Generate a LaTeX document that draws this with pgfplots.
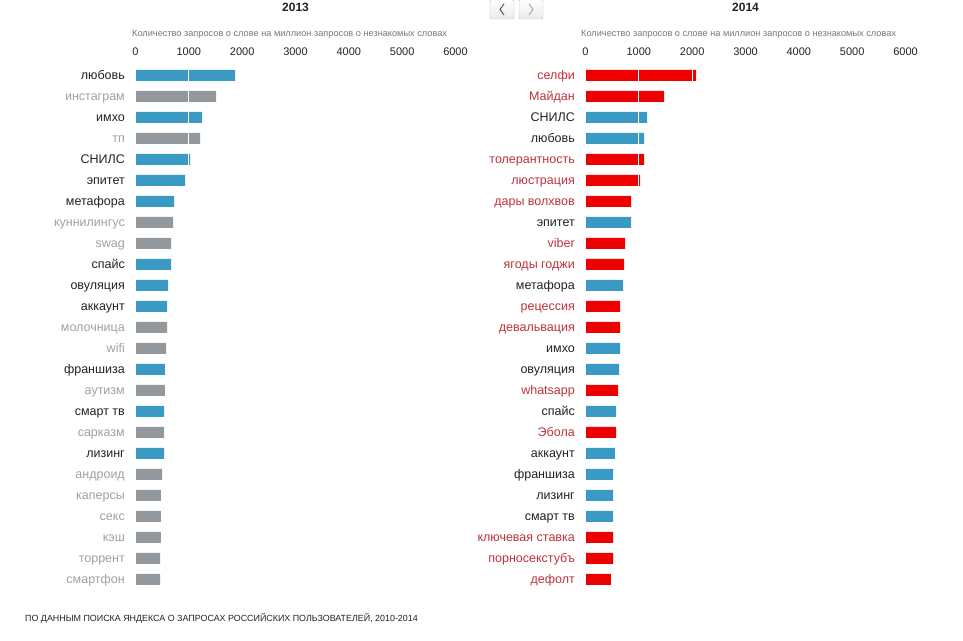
\documentclass[border=0pt]{standalone}
\usepackage{pgfplots}
\pgfplotsset{compat=1.18}
\usepackage{fontspec}
\setmainfont{Liberation Sans}

\definecolor{barblue}{RGB}{58,154,196}
\definecolor{bargray}{RGB}{146,152,156}
\definecolor{barred}{RGB}{238,0,0}
\definecolor{lblblack}{RGB}{34,34,34}
\definecolor{lblgray}{RGB}{160,160,160}
\definecolor{lblred}{RGB}{190,50,60}
\definecolor{subgray}{RGB}{119,119,119}

\pgfplotsset{
  wordchart/.style={
    scale only axis,
    width=320bp, height=525bp,
    anchor=north west,
    xmin=0, xmax=6000,
    ymin=0.5, ymax=25.5,
    y dir=reverse,
    axis line style={draw=none},
    major tick length=0pt,
    xtick={0,1000,2000,3000,4000,5000,6000},
    xticklabels={0,1000,2000,3000,4000,5000,6000},
    xticklabel pos=upper,
    xticklabel style={font=\fontsize{11bp}{13bp}\selectfont, text=lblblack, anchor=base, inner sep=0pt, yshift=9.8bp},
    ytick={1,...,25},
    yticklabel style={font=\fontsize{12.5bp}{14bp}\selectfont, anchor=base east, inner sep=0pt, xshift=-10.5bp, yshift=-4bp},
    xmajorgrids,
    major grid style={white, line width=1bp},
    axis on top,
    xbar, bar width=11bp, bar shift=0pt,
    clip=false,
  },
}

\begin{document}
\begin{tikzpicture}
\useasboundingbox (0,0) rectangle (963bp,641bp);

% 2013
\node[anchor=base, font=\bfseries\fontsize{12bp}{14bp}\selectfont, text=lblblack] at (295.5bp,629.3bp) {2013};
\node[anchor=base west, inner sep=0pt, font=\fontsize{9.2bp}{11bp}\selectfont, text=subgray] at (132bp,604.3bp) {Количество запросов о слове на миллион запросов о незнакомых словах};

\begin{axis}[wordchart, at={(135.5bp,576.2bp)},
  yticklabels={
    \textcolor{lblblack}{любовь}, \textcolor{lblgray}{инстаграм}, \textcolor{lblblack}{имхо},
    \textcolor{lblgray}{тп}, \textcolor{lblblack}{СНИЛС}, \textcolor{lblblack}{эпитет},
    \textcolor{lblblack}{метафора}, \textcolor{lblgray}{куннилингус}, \textcolor{lblgray}{swag},
    \textcolor{lblblack}{спайс}, \textcolor{lblblack}{овуляция}, \textcolor{lblblack}{аккаунт},
    \textcolor{lblgray}{молочница}, \textcolor{lblgray}{wifi}, \textcolor{lblblack}{франшиза},
    \textcolor{lblgray}{аутизм}, \textcolor{lblblack}{смарт тв}, \textcolor{lblgray}{сарказм},
    \textcolor{lblblack}{лизинг}, \textcolor{lblgray}{андроид}, \textcolor{lblgray}{каперсы},
    \textcolor{lblgray}{секс}, \textcolor{lblgray}{кэш}, \textcolor{lblgray}{торрент},
    \textcolor{lblgray}{смартфон}},
]
% words still in use
\addplot[fill=barblue, draw=none] coordinates {
  (1867,1) (1248,3) (1023,5) (929,6) (722,7) (666,10) (610,11) (591,12)
  (553,15) (535,17) (535,19)
};
% words that dropped out by 2014
\addplot[fill=bargray, draw=none] coordinates {
  (1510,2) (1210,4) (704,8) (666,9) (591,13) (572,14) (553,16) (535,18)
  (497,20) (478,21) (478,22) (478,23) (460,24) (460,25)
};
\end{axis}

% 2014
\node[anchor=base, font=\bfseries\fontsize{12bp}{14bp}\selectfont, text=lblblack] at (745.5bp,629.3bp) {2014};
\node[anchor=base west, inner sep=0pt, font=\fontsize{9.2bp}{11bp}\selectfont, text=subgray] at (581bp,604.3bp) {Количество запросов о слове на миллион запросов о незнакомых словах};

\begin{axis}[wordchart, at={(585.5bp,576.2bp)},
  yticklabels={
    \textcolor{lblred}{селфи}, \textcolor{lblred}{Майдан}, \textcolor{lblblack}{СНИЛС},
    \textcolor{lblblack}{любовь}, \textcolor{lblred}{толерантность}, \textcolor{lblred}{люстрация},
    \textcolor{lblred}{дары волхвов}, \textcolor{lblblack}{эпитет}, \textcolor{lblred}{viber},
    \textcolor{lblred}{ягоды годжи}, \textcolor{lblblack}{метафора}, \textcolor{lblred}{рецессия},
    \textcolor{lblred}{девальвация}, \textcolor{lblblack}{имхо}, \textcolor{lblblack}{овуляция},
    \textcolor{lblred}{whatsapp}, \textcolor{lblblack}{спайс}, \textcolor{lblred}{Эбола},
    \textcolor{lblblack}{аккаунт}, \textcolor{lblblack}{франшиза}, \textcolor{lblblack}{лизинг},
    \textcolor{lblblack}{смарт тв}, \textcolor{lblred}{ключевая ставка}, \textcolor{lblred}{порносекстубъ},
    \textcolor{lblred}{дефолт}},
]
% new words of 2014
\addplot[fill=barred, draw=none] coordinates {
  (2073,1) (1473,2) (1098,5) (1023,6) (854,7) (741,9) (722,10) (647,12)
  (647,13) (610,16) (572,18) (516,23) (516,24) (478,25)
};
% words carried over from 2013
\addplot[fill=barblue, draw=none] coordinates {
  (1154,3) (1098,4) (854,8) (704,11) (647,14) (629,15) (572,17) (553,19)
  (516,20) (516,21) (516,22)
};
\end{axis}

% navigation buttons
\shade[top color=white, bottom color=black!8, draw=black!25, rounded corners=1.5bp]
  (490bp,622bp) rectangle (514bp,641.5bp);
\shade[top color=white, bottom color=black!8, draw=black!25, rounded corners=1.5bp]
  (519bp,622bp) rectangle (543bp,641.5bp);
\draw[black!70, line width=0.9bp] (504bp,637bp) -- (500bp,631.5bp) -- (504bp,626bp);
\draw[black!35, line width=0.9bp] (529bp,637bp) -- (533bp,631.5bp) -- (529bp,626bp);

\node[anchor=base west, inner sep=0pt, font=\fontsize{8.9bp}{10bp}\selectfont, text=lblblack] at (25bp,19.3bp)
  {ПО ДАННЫМ ПОИСКА ЯНДЕКСА О ЗАПРОСАХ РОССИЙСКИХ ПОЛЬЗОВАТЕЛЕЙ, 2010-2014};
\end{tikzpicture}
\end{document}
